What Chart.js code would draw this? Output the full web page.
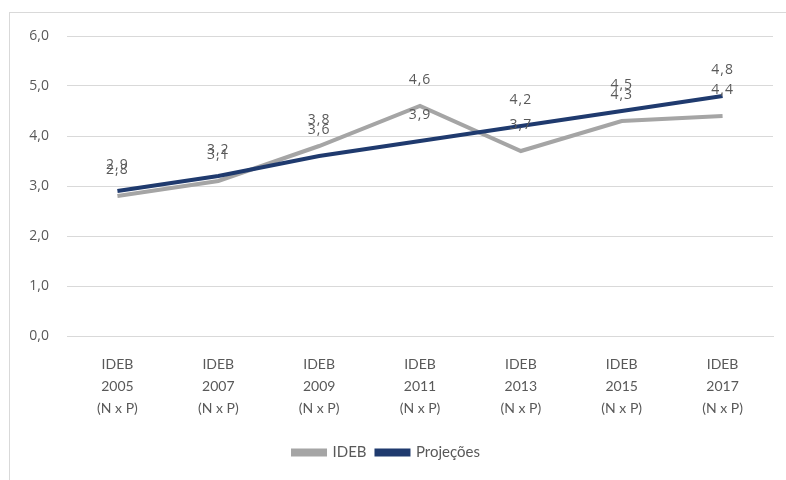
<!DOCTYPE html>
<html>
<head>
<meta charset="utf-8">
<script src="https://cdn.jsdelivr.net/npm/chart.js@4"></script>
<style>
  body { margin: 0; background: #fff; }
  #frame { position: absolute; left: 9px; top: 12px; width: 800px; height: 500px; border: 1px solid #d9d9d9; }
  #wrap { position: absolute; left: 0; top: 0; width: 786px; height: 480px; }
</style>
</head>
<body>
<div id="frame"></div>
<div id="wrap"><canvas id="chart" width="786" height="480"></canvas></div>
<script>
const categories = [
  ['IDEB', '2005', '(N x P)'],
  ['IDEB', '2007', '(N x P)'],
  ['IDEB', '2009', '(N x P)'],
  ['IDEB', '2011', '(N x P)'],
  ['IDEB', '2013', '(N x P)'],
  ['IDEB', '2015', '(N x P)'],
  ['IDEB', '2017', '(N x P)']
];
const ideb = [2.8, 3.1, 3.8, 4.6, 3.7, 4.3, 4.4];
const projecoes = [2.9, 3.2, 3.6, 3.9, 4.2, 4.5, 4.8];
const yTicks = [0, 1, 2, 3, 4, 5, 6];

const fmt = v => v.toFixed(1).replace('.', ',');

// value labels above each point
const pointLabels = {
  id: 'pointLabels',
  afterDatasetsDraw(chart) {
    const ctx = chart.ctx;
    ctx.save();
    ctx.font = '14px "Open Sans"';
    ctx.letterSpacing = '1px';
    ctx.fillStyle = '#595959';
    ctx.textAlign = 'center';
    ctx.textBaseline = 'middle';
    chart.data.datasets.forEach((ds, i) => {
      chart.getDatasetMeta(i).data.forEach((pt, j) => {
        ctx.fillText(fmt(ds.data[j]), pt.x, pt.y - 26);
      });
    });
    ctx.restore();
  }
};

new Chart(document.getElementById('chart'), {
  type: 'line',
  data: {
    labels: categories,
    datasets: [
      { label: 'IDEB', data: ideb, borderColor: '#a5a5a5', backgroundColor: '#a5a5a5', borderWidth: 4, pointRadius: 0, tension: 0, order: 2 },
      { label: 'Projeções', data: projecoes, borderColor: '#1f3a6e', backgroundColor: '#1f3a6e', borderWidth: 4, pointRadius: 0, tension: 0, order: 1 }
    ]
  },
  options: {
    responsive: false,
    animation: false,
    layout: { padding: { left: 0, top: 36, right: 13, bottom: 10 } },
    plugins: {
      tooltip: { enabled: false },
      legend: {
        position: 'bottom',
        labels: {
          boxWidth: 32, boxHeight: 4, color: '#595959',
          font: { family: 'Lato', size: 15 },
          sort: (a, b) => a.datasetIndex - b.datasetIndex
        }
      }
    },
    scales: {
      x: {
        offset: true,
        grid: { display: false, offset: true },
        border: { display: true, color: '#d9d9d9', width: 1 },
        ticks: { color: '#595959', padding: 9, maxRotation: 0, font: { family: 'Lato', size: 14, lineHeight: '22px' } },
        afterFit(s) { s.height = 99; }
      },
      y: {
        min: 0, max: 6,
        afterBuildTicks(s) { s.ticks = yTicks.map(v => ({ value: v })); },
        grid: { color: '#d9d9d9', drawTicks: false },
        border: { display: false },
        ticks: { color: '#595959', padding: 18, font: { family: 'Open Sans', size: 14 }, callback: v => fmt(v) },
        afterFit(s) { s.width = 67; }
      }
    }
  },
  plugins: [pointLabels]
});
</script>
</body>
</html>
